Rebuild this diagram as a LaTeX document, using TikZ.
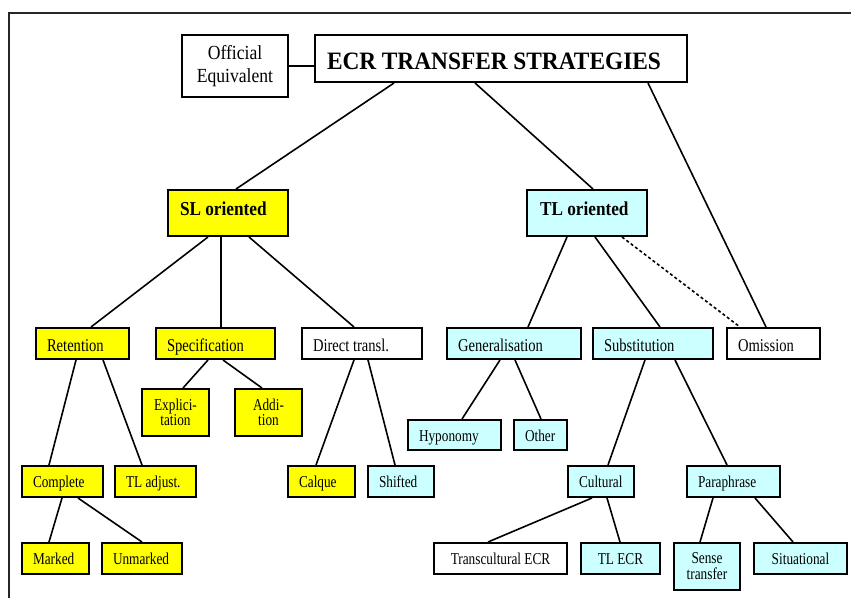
\documentclass[tikz,border=0pt]{standalone}
\usepackage{fontspec}
\setmainfont{Liberation Serif}
\newfontfamily\fAfam{Liberation Serif}[FakeStretch=0.81]
\newfontfamily\fSfam{Liberation Serif}[FakeStretch=0.80]
\newfontfamily\fOfam{Liberation Serif}[FakeStretch=0.88]
\newfontfamily\fTfam{Liberation Serif}[FakeStretch=0.875]
\newfontfamily\fEfam{Liberation Serif}[FakeStretch=0.935]
\newcommand\wsp[1]{\hspace{#1}}
\definecolor{tcyan}{RGB}{204,255,255}
\definecolor{tyel}{RGB}{255,255,0}
\begin{document}
\begin{tikzpicture}[x=1pt,y=-1pt,
  lbox/.style={draw,line width=2pt,inner xsep=11pt,inner ysep=0pt,align=left,minimum width=#1,text width=#1-22pt},
  cbox/.style={draw,line width=2pt,inner sep=0pt,align=center,minimum width=#1},
  ylw/.style={fill=tyel},
  cyn/.style={fill=tcyan},
  fA/.style={font=\fAfam\fontsize{18}{20}\selectfont,text height=15pt,text depth=0pt},
  fB/.style={font=\fSfam\fontsize{16.6}{18}\selectfont,text height=12pt,text depth=0pt},
  fB2/.style={font=\fSfam\fontsize{16.6}{15.5}\selectfont},
  con/.style={line width=1.6pt},
  dcon/.style={line width=1.6pt,dash pattern=on 3pt off 2.5pt}]
\useasboundingbox (0,0) rectangle (851,598);
\draw[line width=1.3pt,black!85] (9,598) -- (9,13) -- (851,13);

% top level
\node[cbox=106pt,minimum height=62pt,font=\fOfam\fontsize{20}{23}\selectfont] (off) at (235,66) {Official\\Equivalent};
\node[lbox=372pt,minimum height=47pt,font=\fEfam\fontsize{25}{27}\selectfont\bfseries,inner xsep=12pt,text width=348pt,text height=21pt,text depth=0pt] (ecr) at (501,58.5) {ECR\wsp{5.5pt}TRANSFER\wsp{5.5pt}STRATEGIES};

% second level
\node[lbox=120pt,minimum height=46pt,ylw,font=\fTfam\fontsize{19.7}{22}\selectfont\bfseries,inner xsep=12pt,text width=96pt,text height=13.3pt,text depth=8pt] (sl) at (228,213) {SL\wsp{4.3pt}oriented};
\node[lbox=120pt,minimum height=46pt,cyn,font=\fTfam\fontsize{19.7}{22}\selectfont\bfseries,inner xsep=13pt,text width=94pt,text height=13.3pt,text depth=8pt] (tl) at (587,213) {TL\wsp{4.3pt}oriented};

% third level
\node[lbox=93pt,minimum height=31pt,ylw,fA] (ret) at (82.5,343.5) {Retention};
\node[lbox=119pt,minimum height=31pt,ylw,fA] (spec) at (215.5,343.5) {Specification};
\node[lbox=120pt,minimum height=31pt,fA] (dir) at (362,343.5) {Direct\wsp{3.6pt}transl.};
\node[lbox=134pt,minimum height=31pt,cyn,fA] (gen) at (514,343.5) {Generalisation};
\node[lbox=120pt,minimum height=31pt,cyn,fA] (sub) at (653,343.5) {Substitution};
\node[lbox=93pt,minimum height=31pt,fA] (om) at (773.5,343.5) {Omission};

% fourth level
\node[cbox=67pt,minimum height=47pt,ylw,fB2] (expl) at (175.5,412.5) {Explici-\\tation};
\node[cbox=67pt,minimum height=47pt,ylw,fB2] (add) at (268.5,412.5) {Addi-\\tion};
\node[lbox=93pt,minimum height=30pt,cyn,fB] (hyp) at (454.5,435) {Hyponomy};
\node[lbox=53pt,minimum height=30pt,cyn,fB] (oth) at (540.5,435) {Other};

% fifth level
\node[lbox=81pt,minimum height=31pt,ylw,fB] (comp) at (62.5,481.5) {Complete};
\node[lbox=81pt,minimum height=31pt,ylw,fB] (tladj) at (155.5,481.5) {TL\wsp{3.3pt}adjust.};
\node[lbox=67pt,minimum height=31pt,ylw,fB] (calq) at (321.5,481.5) {Calque};
\node[lbox=66pt,minimum height=31pt,cyn,fB] (shif) at (401,481.5) {Shifted};
\node[lbox=66pt,minimum height=31pt,cyn,fB] (cult) at (601,481.5) {Cultural};
\node[lbox=93pt,minimum height=31pt,cyn,fB] (para) at (733.5,481.5) {Paraphrase};

% sixth level
\node[lbox=67pt,minimum height=31pt,ylw,fB] (mark) at (55.5,558.5) {Marked};
\node[lbox=80pt,minimum height=31pt,ylw,fB] (unm) at (142,558.5) {Unmarked};
\node[cbox=133pt,minimum height=31pt,fB] (trans) at (500.5,558.5) {Transcultural\wsp{3.3pt}ECR};
\node[cbox=79pt,minimum height=31pt,cyn,fB] (tlecr) at (620.5,558.5) {TL\wsp{3.3pt}ECR};
\node[cbox=66pt,minimum height=47pt,cyn,font=\fSfam\fontsize{16.6}{16}\selectfont] (sense) at (707,566.5) {Sense\\transfer};
\node[cbox=93pt,minimum height=31pt,cyn,fB] (sit) at (800.5,558.5) {Situational};

% connectors
\draw[con] (off.east) -- (off.east -| ecr.west);
\draw[con] ([xshift=-107pt]ecr.south) -- ([xshift=8pt]sl.north);
\draw[con] ([xshift=-26pt]ecr.south) -- ([xshift=6pt]tl.north);
\draw[con] ([xshift=147pt]ecr.south) -- ([xshift=-7.5pt]om.north);
\draw[dcon] ([xshift=35pt]tl.south) -- ([xshift=-33.5pt]om.north);

\draw[con] ([xshift=-20pt]sl.south) -- ([xshift=8.5pt]ret.north);
\draw[con] ([xshift=-7pt]sl.south) -- ([xshift=5.5pt]spec.north);
\draw[con] ([xshift=21pt]sl.south) -- ([xshift=-8pt]dir.north);

\draw[con] ([xshift=-7.5pt]spec.south) -- ([xshift=7.5pt]expl.north);
\draw[con] ([xshift=7.5pt]spec.south) -- ([xshift=-6.5pt]add.north);

\draw[con] ([xshift=-6.5pt]ret.south) -- ([xshift=-13.5pt]comp.north);
\draw[con] ([xshift=20.5pt]ret.south) -- ([xshift=-13.5pt]tladj.north);
\draw[con] ([xshift=-0.5pt]comp.south) -- ([xshift=-6.5pt]mark.north);
\draw[con] ([xshift=15.5pt]comp.south) -- (unm.north);

\draw[con] ([xshift=-8pt]dir.south) -- ([xshift=-5.5pt]calq.north);
\draw[con] ([xshift=6pt]dir.south) -- ([xshift=-6pt]shif.north);

\draw[con] ([xshift=-20pt]tl.south) -- ([xshift=14pt]gen.north);
\draw[con] ([xshift=8pt]tl.south) -- ([xshift=7pt]sub.north);

\draw[con] ([xshift=-14pt]gen.south) -- ([xshift=7.5pt]hyp.north);
\draw[con] ([xshift=1pt]gen.south) -- ([xshift=0.5pt]oth.north);

\draw[con] ([xshift=-8pt]sub.south) -- ([xshift=7pt]cult.north);
\draw[con] ([xshift=22pt]sub.south) -- ([xshift=-6.5pt]para.north);

\draw[con] ([xshift=-9pt]cult.south) -- ([xshift=-12.5pt]trans.north);
\draw[con] ([xshift=6pt]cult.south) -- ([xshift=-0.5pt]tlecr.north);
\draw[con] ([xshift=-20.5pt]para.south) -- ([xshift=-7pt]sense.north);
\draw[con] ([xshift=21.5pt]para.south) -- ([xshift=-7.5pt]sit.north);
\end{tikzpicture}
\end{document}
